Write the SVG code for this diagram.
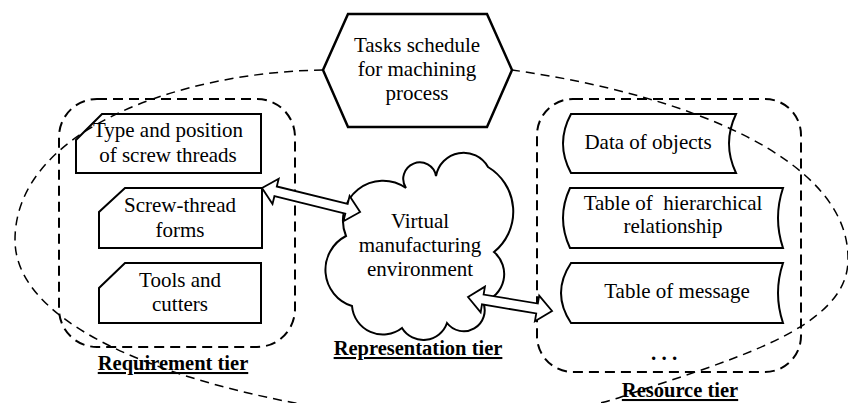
<svg xmlns="http://www.w3.org/2000/svg" width="848" height="403" viewBox="0 0 848 403">
<style>
.t{font-family:"Liberation Serif","Tinos","Noto Serif","DejaVu Serif",serif;font-size:21px;text-anchor:middle;fill:#000}
.lbl{font-weight:bold;font-size:20.5px;text-decoration:underline}
.box{fill:#fff;stroke:#000;stroke-width:2}
.tier{fill:none;stroke:#000;stroke-width:2;stroke-dasharray:10 6}
.loop{fill:none;stroke:#000;stroke-width:1.5;stroke-dasharray:9 6}
.arr{fill:#fff;stroke:#000;stroke-width:1.8;stroke-linejoin:miter}
</style>
<rect width="848" height="403" fill="#fff"/>
<g id="tiers">
<rect id="requirement-tier-frame" class="tier" x="59" y="99" width="236" height="248" rx="38" ry="38"/>
<rect id="resource-tier-frame" class="tier" x="537" y="99" width="264" height="273" rx="36" ry="36"/>
</g>
<g id="node-type-position">
<path class="box" d="M102,114 H261 V173 H76 V140 Z"/>
<text class="t" x="168" y="137">Type and position</text>
<text class="t" x="168" y="162">of screw threads</text>
</g>
<g id="node-screw-thread-forms">
<path class="box" d="M125,188 H262 V248 H99 V212 Z"/>
<text class="t" x="180" y="212">Screw-thread</text>
<text class="t" x="180" y="237">forms</text>
</g>
<g id="node-tools-cutters">
<path class="box" d="M125,263 H261 V323 H99 V288 Z"/>
<text class="t" x="180" y="287">Tools and</text>
<text class="t" x="180" y="311">cutters</text>
</g>
<g id="node-data-objects">
<path class="box" d="M571,114 L736,114 Q722,143.5 736,173 L571,173 Q555,143.5 571,114 Z"/>
<text class="t" x="648" y="149">Data of objects</text>
</g>
<g id="node-table-hierarchical">
<path class="box" d="M570,188 L783,188 Q773,218 783,248 L570,248 Q556,218 570,188 Z"/>
<text class="t" x="673" y="210" style="white-space:pre" xml:space="preserve">Table of  hierarchical</text>
<text class="t" x="673" y="233">relationship</text>
</g>
<g id="node-table-message">
<path class="box" d="M571,263 L783,263 Q773,293 783,323 L571,323 Q551,293 571,263 Z"/>
<text class="t" x="677" y="298">Table of message</text>
</g>
<g id="node-more">
<text class="t" x="664" y="360" style="font-weight:bold;white-space:pre" xml:space="preserve">. . .</text>
</g>
<g id="loop">
<path class="loop" d="M323,70 C180,72 15,130 15,240 C15,320 150,375 290,402 C380,419 540,425 621,397 C725,361 850,330 848,258 C848,160 690,95 512,70"/>
</g>
<g id="node-tasks-schedule">
<polygon points="348,14 487,14 512,70 487,127 348,127 323,70" fill="#fff" stroke="#000" stroke-width="2.5"/>
<text class="t" x="417" y="52">Tasks schedule</text>
<text class="t" x="417" y="76">for machining</text>
<text class="t" x="417" y="100">process</text>
</g>
<g id="node-virtual-environment">
<path fill="#fff" stroke="#000" stroke-width="2" d="M346,236 A40 40 0 0 1 406,188 A16.5 16.5 0 1 1 436,176 A28 28 0 0 1 488,167 A52 52 0 0 1 494,252 A29 29 0 0 1 483,302 A21 21 0 0 1 447,323 A25 25 0 0 1 402,328 A31 31 0 0 1 352,306 A38 38 0 0 1 346,236 Z"/>
<text class="t" x="420" y="228">Virtual</text>
<text class="t" x="420" y="252">manufacturing</text>
<text class="t" x="420" y="276">environment</text>
</g>
<g id="connectors">
<polygon class="arr" points="0,0 14,-13 14,-5 87,-5 87,-13 101,0 87,13 87,5 14,5 14,13" transform="translate(262,188) rotate(13.76)"/>
<polygon class="arr" points="0,0 15,-13 15,-5 70,-5 70,-13 85.2,0 70,13 70,5 15,5 15,13" transform="translate(468,297) rotate(9.46)"/>
</g>
<g id="labels">
<text class="t lbl" x="173" y="370">Requirement tier</text>
<text class="t lbl" x="418" y="355">Representation tier</text>
<text class="t lbl" x="680" y="397">Resource tier</text>
</g>
</svg>
